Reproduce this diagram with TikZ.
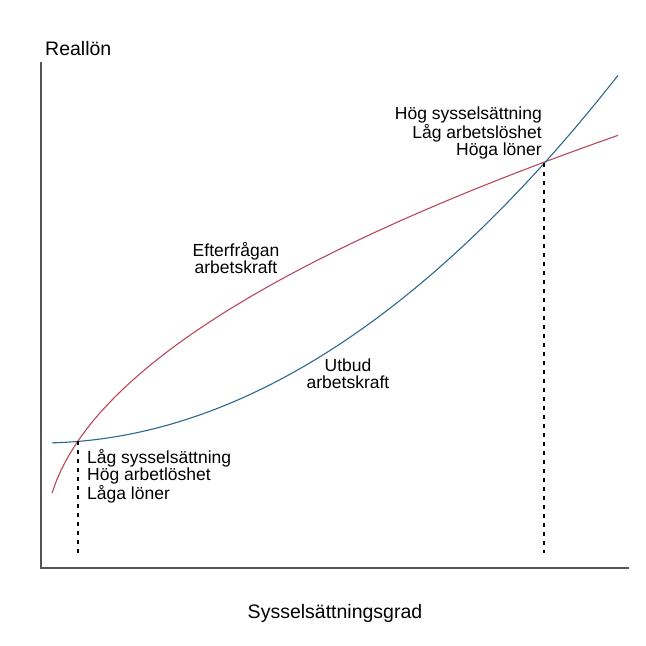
\documentclass[tikz,border=0pt]{standalone}
\usepackage{fontspec}
\setmainfont{Liberation Sans}
\definecolor{demandred}{RGB}{185,72,92}
\definecolor{supplyblue}{RGB}{44,104,146}
\definecolor{axisgray}{RGB}{85,85,85}
\begin{document}
\begin{tikzpicture}[x=1pt,y=-1pt,
  axisline/.style={draw=axisgray,line width=1.5pt},
  curve/.style={line width=1.1pt},
  guide/.style={draw=black,line width=1.2pt,dash pattern=on 4pt off 5pt},
  lbl/.style={inner sep=0pt,font=\fontsize{17.5}{17}\selectfont},
  ttl/.style={inner sep=0pt,font=\fontsize{19.5}{19.5}\selectfont}]
\useasboundingbox (0,0) rectangle (646,646);
% axes
\coordinate (ytop) at (41,62);
\coordinate (origin) at (41,568);
\coordinate (xend) at (629,568);
\draw[axisline] (ytop) -- (origin) -- (xend);
% demand curve
\draw[curve,demandred] plot[domain=52:618,samples=120] (\x,{537.5-16.8*sqrt(\x-45)});
% supply curve
\draw[curve,supplyblue] plot[domain=52:618,samples=120] (\x,{443-(0.033166*(\x-40))^2});
% intersections and guides
\coordinate (lowcross) at (78,441);
\coordinate (lowfoot) at (78,553);
\coordinate (highcross) at (544,163);
\coordinate (highfoot) at (544,553);
\draw[guide] (lowcross) -- (lowfoot);
\draw[guide] (highcross) -- (highfoot);
% labels
\node[ttl,anchor=base west] (ylab) at (45,55) {Reallön};
\node[ttl,anchor=base] (xlab) at (335,618) {Sysselsättningsgrad};
\node[lbl,anchor=base west,align=left] (lowlab) at (87,499) {Låg sysselsättning\\Hög arbetlöshet\\Låga löner};
\node[lbl,anchor=base east,align=right] (highlab) at (542,155) {Hög sysselsättning\\Låg arbetslöshet\\Höga löner};
\node[lbl,anchor=base,align=center] (demlab) at (236,273) {Efterfrågan\\arbetskraft};
\node[lbl,anchor=base,align=center] (suplab) at (348,388) {Utbud\\arbetskraft};
\end{tikzpicture}
\end{document}
